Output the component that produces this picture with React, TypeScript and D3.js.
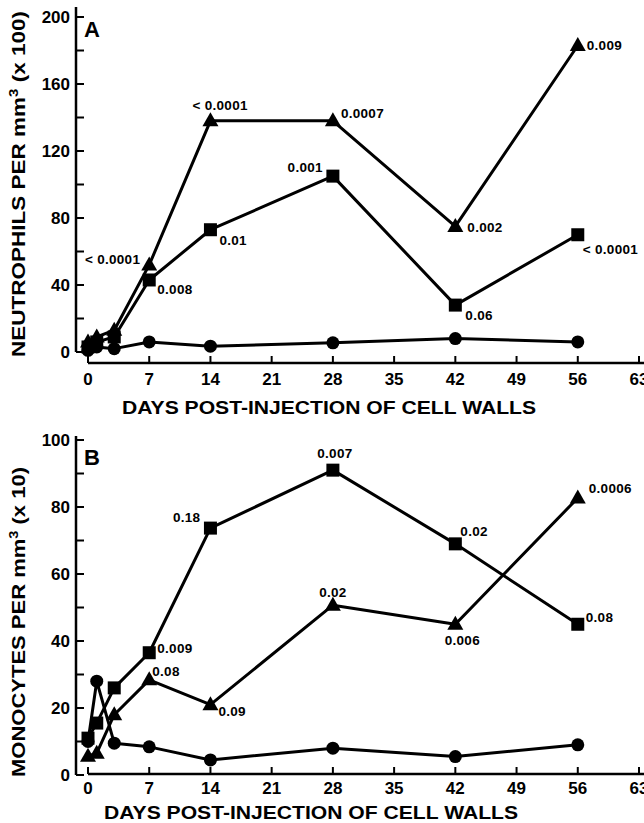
import React from "react";
import * as d3 from "d3";

const days = [0, 1, 3, 7, 14, 28, 42, 56];
const xTicks = [0, 7, 14, 21, 28, 35, 42, 49, 56, 63];

const neutroCircle = [1, 3, 2, 6, 3.5, 5.5, 8, 6];
const neutroSquare = [3, 6, 9, 43, 73, 105, 28, 70];
const neutroTriangle = [6, 9, 13, 52, 138, 138, 75, 183];

const monoCircle = [10, 28, 9.5, 8.4, 4.5, 8, 5.5, 9];
const monoSquare = [11, 15.5, 26, 36.5, 73.7, 91, 69, 45];
const monoTriangle = [5.6, 6.5, 18, 28.4, 21, 50.7, 45, 82.7];

const neutroYTicks = [0, 20, 40, 60, 80, 100, 120, 140, 160, 180, 200];
const neutroYLabels = [0, 40, 80, 120, 160, 200];
const monoYTicks = [0, 10, 20, 30, 40, 50, 60, 70, 80, 90, 100];
const monoYLabels = [0, 20, 40, 60, 80, 100];

// annotations: [series, day, text]
const neutroNotes: [string, number, string][] = [
  ["tri", 14, "< 0.0001"],
  ["tri", 28, "0.0007"],
  ["sq", 28, "0.001"],
  ["sq", 14, "0.01"],
  ["tri", 7, "< 0.0001"],
  ["sq", 7, "0.008"],
  ["tri", 42, "0.002"],
  ["sq", 42, "0.06"],
  ["tri", 56, "0.009"],
  ["sq", 56, "< 0.0001"],
];
const neutroNoteLayout: [number, number, string][] = [
  [-18, -11, "start"],
  [8, -3, "start"],
  [-10, -4, "end"],
  [9, 15, "start"],
  [-9, -1, "end"],
  [8, 14, "start"],
  [12, 6, "start"],
  [10, 15, "start"],
  [9, 5, "start"],
  [5, 19, "start"],
];

const monoNotes: [string, number, string][] = [
  ["sq", 28, "0.007"],
  ["sq", 14, "0.18"],
  ["sq", 42, "0.02"],
  ["tri", 56, "0.0006"],
  ["tri", 28, "0.02"],
  ["tri", 42, "0.006"],
  ["sq", 56, "0.08"],
  ["sq", 7, "0.009"],
  ["tri", 7, "0.08"],
  ["tri", 14, "0.09"],
];
const monoNoteLayout: [number, number, string][] = [
  [2, -12, "middle"],
  [-10, -6, "end"],
  [5, -8, "start"],
  [11, -5, "start"],
  [0, -8, "middle"],
  [7, 21, "middle"],
  [8, -2, "start"],
  [8, 0, "start"],
  [3, -4, "start"],
  [8, 11, "start"],
];

const FONT = "'Liberation Sans', Arial, Helvetica, sans-serif";

type PanelProps = {
  yDomain: [number, number];
  yRange: [number, number];
  xAxisY: number;
  yAxisTop: number;
  yTicks: number[];
  yLabels: number[];
  circle: number[];
  square: number[];
  triangle: number[];
  notes: [string, number, string][];
  layout: [number, number, string][];
  letter: string;
  letterY: number;
  titleMain: string;
  titleSuffix: string;
  titleCenter: number;
  titleLength: number;
  xTitleX: number;
  xTitleLength: number;
  xLabelY: number;
  xTitleY: number;
};

function Panel(p: PanelProps) {
  const x = d3.scaleLinear().domain([0, 63]).range([88, 639]);
  const y = d3.scaleLinear().domain(p.yDomain).range(p.yRange);
  const line = d3
    .line<number>()
    .x((_, i) => x(days[i]))
    .y((v) => y(v));
  const seriesMap: Record<string, number[]> = { circ: p.circle, sq: p.square, tri: p.triangle };
  const axisX = 76;
  const stroke = "#000";
  return (
    <g>
      {/* y axis */}
      <line x1={axisX} x2={axisX} y1={p.yAxisTop} y2={y(0)} stroke={stroke} strokeWidth={2.5} />
      {p.yTicks.map((t) => (
        <line key={"yt" + t} x1={axisX} x2={axisX + 8} y1={y(t)} y2={y(t)} stroke={stroke} strokeWidth={2} />
      ))}
      {p.yLabels.map((t) => (
        <text
          key={"yl" + t}
          x={axisX - 6}
          y={y(t) + 6}
          textAnchor="end"
          fontFamily={FONT}
          fontWeight="bold"
          fontSize={17}
        >
          {t}
        </text>
      ))}
      {/* x axis */}
      <line x1={x(0)} x2={644} y1={p.xAxisY} y2={p.xAxisY} stroke={stroke} strokeWidth={2.5} />
      {xTicks.map((t) => (
        <line key={"xt" + t} x1={x(t)} x2={x(t)} y1={p.xAxisY} y2={p.xAxisY - 7} stroke={stroke} strokeWidth={2} />
      ))}
      {xTicks.map((t) => (
        <text
          key={"xl" + t}
          x={x(t)}
          y={p.xLabelY}
          textAnchor="middle"
          fontFamily={FONT}
          fontWeight="bold"
          fontSize={17}
        >
          {t}
        </text>
      ))}
      <text
        x={p.xTitleX}
        y={p.xTitleY}
        fontFamily={FONT}
        fontWeight="bold"
        fontSize={19}
        textLength={p.xTitleLength}
        lengthAdjust="spacingAndGlyphs"
      >
        DAYS POST-INJECTION OF CELL WALLS
      </text>
      {/* y title */}
      <text
        transform={`translate(25,${p.titleCenter}) rotate(-90)`}
        textAnchor="middle"
        fontFamily={FONT}
        fontWeight="bold"
        fontSize={18}
        textLength={p.titleLength}
        lengthAdjust="spacingAndGlyphs"
      >
        {p.titleMain}
        <tspan dy={-7} fontSize={12}>3</tspan>
        <tspan dy={7}>{p.titleSuffix}</tspan>
      </text>
      {/* panel letter */}
      <text x={84} y={p.letterY} fontFamily={FONT} fontWeight="bold" fontSize={22}>
        {p.letter}
      </text>
      {/* lines */}
      {[p.circle, p.square, p.triangle].map((s, k) => (
        <path key={"ln" + k} d={line(s) || ""} fill="none" stroke={stroke} strokeWidth={3} strokeLinejoin="round" />
      ))}
      {/* markers */}
      {p.circle.map((v, i) => (
        <circle key={"c" + i} cx={x(days[i])} cy={y(v)} r={6.5} fill="#000" />
      ))}
      {p.square.map((v, i) => (
        <rect key={"s" + i} x={x(days[i]) - 6.5} y={y(v) - 6.5} width={13} height={13} fill="#000" />
      ))}
      {p.triangle.map((v, i) => {
        const cx = x(days[i]);
        const cy = y(v);
        return <path key={"t" + i} d={`M${cx},${cy - 8.5}L${cx + 8},${cy + 5.5}L${cx - 8},${cy + 5.5}Z`} fill="#000" />;
      })}
      {/* annotations */}
      {p.notes.map(([s, d, txt], i) => {
        const idx = days.indexOf(d);
        const v = seriesMap[s][idx];
        const [dx, dy, anchor] = p.layout[i];
        return (
          <text
            key={"n" + i}
            x={x(d) + dx}
            y={y(v) + dy}
            textAnchor={anchor as any}
            fontFamily={FONT}
            fontWeight="bold"
            fontSize={13.5}
            letterSpacing={0.3}
          >
            {txt}
          </text>
        );
      })}
    </g>
  );
}

export default function App() {
  return (
    <svg width={644} height={823} style={{ position: "absolute", left: 0, top: 0, background: "#fff" }}>
      <rect width={644} height={823} fill="#fff" />
      <Panel
        yDomain={[0, 200]}
        yRange={[352, 17]}
        xAxisY={363}
        yAxisTop={7}
        yTicks={neutroYTicks}
        yLabels={neutroYLabels}
        circle={neutroCircle}
        square={neutroSquare}
        triangle={neutroTriangle}
        notes={neutroNotes}
        layout={neutroNoteLayout}
        letter="A"
        letterY={37}
        titleMain="NEUTROPHILS PER mm"
        titleSuffix=" (x 100)"
        titleCenter={184}
        titleLength={346}
        xTitleX={122}
        xTitleLength={414}
        xLabelY={385}
        xTitleY={414}
      />
      <Panel
        yDomain={[0, 100]}
        yRange={[775, 440]}
        xAxisY={774}
        yAxisTop={436}
        yTicks={monoYTicks}
        yLabels={monoYLabels}
        circle={monoCircle}
        square={monoSquare}
        triangle={monoTriangle}
        notes={monoNotes}
        layout={monoNoteLayout}
        letter="B"
        letterY={465}
        titleMain="MONOCYTES PER mm"
        titleSuffix=" (x 10)"
        titleCenter={622}
        titleLength={310}
        xTitleX={104}
        xTitleLength={414}
        xLabelY={794}
        xTitleY={819}
      />
    </svg>
  );
}
